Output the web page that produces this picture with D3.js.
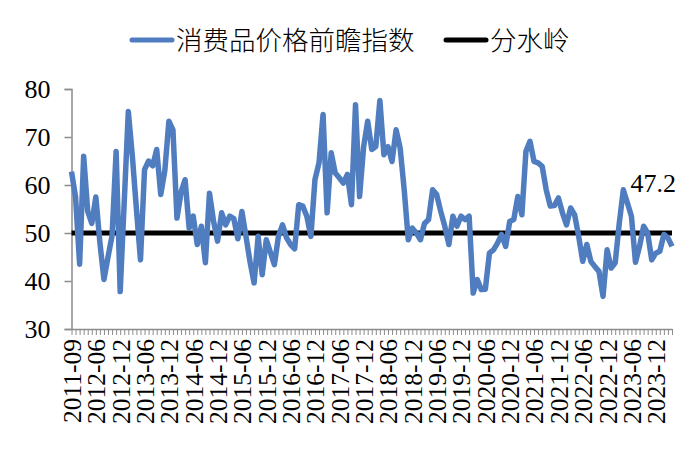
<!DOCTYPE html>
<html>
<head>
<meta charset="utf-8">
<script src="https://cdn.jsdelivr.net/npm/d3@7"></script>
<style>
  body { margin: 0; background: #fff; }
  #chart text { fill: #000; }
</style>
</head>
<body>
<div id="chart"></div>
<script>
// series names
var seriesName = "消费品价格前瞻指数";
var lineName = "分水岭";

// first few months are irregular, monthly from 2012-06 on
var firstMonths = ["2011-09", "2011-10", "2011-11", "2011-12", "2012-04", "2012-05"];
var lastMonth = "2024-04";

// index values
var values = [
  62.8, 57.5, 43.5, 66.0, 54.5, 52.0, 57.5, 48.0, 40.3, 45.0,
  49.5, 67.0, 37.8, 56.5, 75.3, 66.0, 55.0, 44.4, 63.2, 65.0,
  64.0, 67.4, 58.0, 63.0, 73.3, 71.5, 53.1, 58.5, 61.1, 51.0,
  53.5, 47.6, 51.4, 43.8, 58.3, 52.5, 48.3, 54.2, 51.7, 53.5,
  53.0, 48.8, 54.5, 49.3, 44.0, 39.6, 49.3, 41.3, 48.6, 46.0,
  43.4, 49.3, 51.7, 49.0, 47.6, 46.7, 55.9, 55.6, 53.5, 49.3,
  61.1, 64.6, 74.7, 54.2, 66.7, 62.5, 61.5, 60.4, 62.2, 55.9,
  76.7, 57.6, 68.0, 73.3, 67.4, 68.0, 77.6, 66.3, 68.0, 64.9,
  71.5, 67.7, 59.0, 48.6, 51.0, 50.0, 48.6, 52.0, 52.8, 59.0,
  58.0, 54.5, 51.4, 47.6, 53.5, 51.4, 53.5, 52.8, 53.5, 37.5,
  40.3, 38.2, 38.3, 45.8, 46.5, 47.9, 49.7, 47.2, 52.4, 52.8,
  57.6, 53.8, 67.0, 69.1, 64.9, 64.6, 63.9, 59.0, 55.6, 55.7,
  57.3, 54.2, 51.7, 55.2, 53.8, 49.3, 44.1, 47.6, 44.1, 43.0,
  42.0, 36.8, 46.5, 42.7, 43.8, 52.0, 59.0, 56.3, 53.5, 43.9,
  47.2, 51.4, 50.0, 44.4, 45.8, 46.2, 49.7, 49.0, 47.2
];
var threshold = 50;

var tickLabels = [
  "2011-09", "2012-06", "2012-12", "2013-06", "2013-12", "2014-06", "2014-12",
  "2015-06", "2015-12", "2016-06", "2016-12", "2017-06", "2017-12", "2018-06",
  "2018-12", "2019-06", "2019-12", "2020-06", "2020-12", "2021-06", "2021-12",
  "2022-06", "2022-12", "2023-06", "2023-12"
];
var yTicks = [30, 40, 50, 60, 70, 80];

// build the category list
var categories = firstMonths.slice();
var fmt = d3.timeFormat("%Y-%m");
var m = new Date(2012, 5, 1);
while (fmt(m) <= lastMonth) {
  categories.push(fmt(m));
  m = d3.timeMonth.offset(m, 1);
}

var data = categories.map(function(c, i) { return {cat: c, value: values[i]}; });

var width = 700, height = 470;
var margin = {top: 89, right: 28, bottom: 141, left: 71.5};

var svg = d3.select("#chart").append("svg")
  .attr("width", width)
  .attr("height", height);

var x = d3.scalePoint()
  .domain(categories)
  .range([margin.left, width - margin.right]);

var y = d3.scaleLinear()
  .domain([30, 80])
  .range([height - margin.bottom, margin.top]);

// y axis
var yAxis = svg.append("g")
  .attr("transform", "translate(" + margin.left + ",0)")
  .call(d3.axisLeft(y).tickValues(yTicks).tickSize(7).tickPadding(14));
yAxis.selectAll("text")
  .style("font-family", "'Liberation Serif', 'Times New Roman', serif")
  .style("font-size", "26px");
yAxis.selectAll("line, path").attr("stroke", "#8c8c8c").attr("stroke-width", 1.5);

// x axis
var xAxis = svg.append("g")
  .attr("transform", "translate(0," + y(30) + ")")
  .call(d3.axisBottom(x)
    .tickValues(categories)
    .tickSize(6)
    .tickSizeOuter(0)
    .tickFormat(function(d) { return tickLabels.indexOf(d) >= 0 ? d : ""; }));
xAxis.selectAll("line, path").attr("stroke", "#8c8c8c").attr("stroke-width", 1);
xAxis.select("path").attr("stroke-width", 1.5);
xAxis.selectAll("text")
  .style("font-family", "'Liberation Serif', 'Times New Roman', serif")
  .style("font-size", "25.5px")
  .attr("text-anchor", "end")
  .attr("dy", "0.35em")
  .attr("transform", "translate(0,6) rotate(-90)")
  .attr("x", -4)
  .attr("y", 0);

// threshold line
svg.append("line")
  .attr("x1", x(categories[0]))
  .attr("x2", x(categories[categories.length - 1]))
  .attr("y1", y(threshold))
  .attr("y2", y(threshold))
  .attr("stroke", "#000")
  .attr("stroke-width", 5);

// index line
var line = d3.line()
  .x(function(d) { return x(d.cat); })
  .y(function(d) { return y(d.value); });

svg.append("path")
  .datum(data)
  .attr("fill", "none")
  .attr("stroke", "#4f7dbf")
  .attr("stroke-width", 5.5)
  .attr("stroke-linejoin", "round")
  .attr("d", line);

// last value label
var last = data[data.length - 1];
svg.append("text")
  .attr("x", x(last.cat) + 4)
  .attr("y", y(58.5))
  .attr("text-anchor", "end")
  .style("font-family", "'Liberation Serif', 'Times New Roman', serif")
  .style("font-size", "26px")
  .text(last.value.toFixed(1));

// legend
var legend = svg.append("g").attr("transform", "translate(0,40)");
var items = [
  {name: seriesName, color: "#4f7dbf", x: 132},
  {name: lineName, color: "#000", x: 446}
];
items.forEach(function(it) {
  legend.append("line")
    .attr("x1", it.x).attr("x2", it.x + 40)
    .attr("y1", 0).attr("y2", 0)
    .attr("stroke", it.color)
    .attr("stroke-width", 5)
    .attr("stroke-linecap", "round");
  legend.append("text")
    .attr("x", it.x + 44)
    .attr("y", 0)
    .attr("dy", "0.36em")
    .style("font-family", "'Noto Sans CJK SC', sans-serif")
    .style("font-size", "26.5px")
    .style("font-weight", 300)
    .text(it.name);
});
</script>
</body>
</html>
